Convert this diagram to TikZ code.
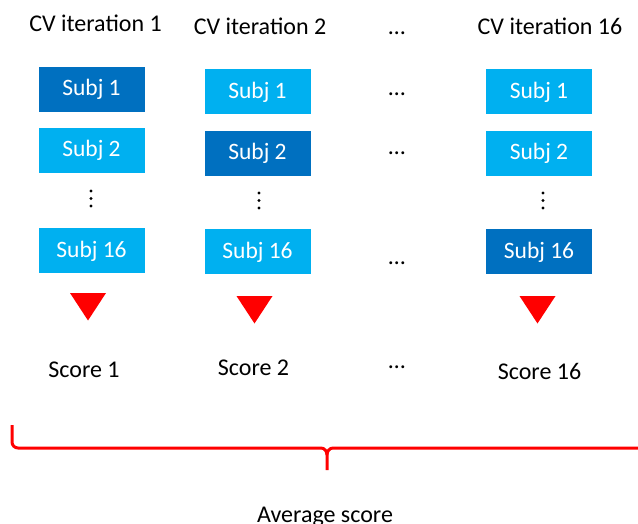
\documentclass[tikz,border=0pt]{standalone}
\usepackage{fontspec}
\setmainfont{Carlito}
\definecolor{darkblue}{HTML}{0070C0}
\definecolor{lightblue}{HTML}{00B0F0}
\definecolor{markred}{HTML}{FF0000}
\tikzset{
  lbl/.style={font=\fontsize{24}{28}\selectfont, text=black, inner sep=0pt, anchor=base},
  subjbox/.style={rectangle, minimum width=106pt, minimum height=45pt, inner sep=0pt,
    font=\fontsize{23.5}{27}\selectfont, text=white},
  heldout/.style={subjbox, fill=darkblue},
  trainbox/.style={subjbox, fill=lightblue},
  vdot/.style={circle, fill=black, inner sep=0pt, minimum size=3.2pt},
  arrowhead/.style={fill=markred, draw=none},
  bracket/.style={draw=markred, line width=3pt, line join=round}
}
\begin{document}
\begin{tikzpicture}[x=1pt,y=-1pt]
\useasboundingbox (0,0) rectangle (638,524);

% column titles
\node[lbl] (t1) at (95.5,32) {CV iteration 1};
\node[lbl] (t2) at (260,35) {CV iteration 2};
\node[lbl] (tm) at (397,35) {…};
\node[lbl] (t3) at (550,35) {CV iteration 16};

% column 1: subject 1 held out
\node[heldout]  (a1)  at (91.5,89.5) {Subj 1};
\node[trainbox] (a2)  at (91.5,150.5) {Subj 2};
\node[trainbox] (a16) at (91.5,251) {Subj 16};
\foreach \y [count=\i] in {191,198.5,206} \node[vdot] (ad\i) at (91,\y) {};

% column 2: subject 2 held out
\node[trainbox] (b1)  at (257.5,92) {Subj 1};
\node[heldout]  (b2)  at (257.5,153.5) {Subj 2};
\node[trainbox] (b16) at (257.5,252) {Subj 16};
\foreach \y [count=\i] in {193,200.5,208} \node[vdot] (bd\i) at (259,\y) {};

% column 3: subject 16 held out
\node[trainbox] (c1)  at (539,92) {Subj 1};
\node[trainbox] (c2)  at (539,153.5) {Subj 2};
\node[heldout]  (c16) at (539,252) {Subj 16};
\foreach \y [count=\i] in {193,200.5,208} \node[vdot] (cd\i) at (543,\y) {};

% ellipses between columns
\node[lbl] (m1) at (397,96) {…};
\node[lbl] (m2) at (397,155) {…};
\node[lbl] (m3) at (397,265) {…};
\node[lbl] (m4) at (397,368) {…};

% red downward markers
\fill[arrowhead] (70,293) -- (106,293) -- (88,320.5) -- cycle;
\fill[arrowhead] (236.5,296) -- (272.5,296) -- (254.5,323.5) -- cycle;
\fill[arrowhead] (519.5,296) -- (555.5,296) -- (537.5,323.5) -- cycle;

% scores
\node[lbl] (s1) at (84,377) {Score 1};
\node[lbl] (s2) at (253.5,375) {Score 2};
\node[lbl] (s3) at (539.5,379) {Score 16};

% brace collecting the scores
\coordinate (bl) at (12,425);
\coordinate (bj) at (327,455);
\coordinate (bm) at (327,470);
\coordinate (br) at (660,448);
\draw[bracket] (bl) -- (12,442) to[out=-90,in=180] (18,448) -- (321,448)
  to[out=0,in=90] (bj) -- (bm);
\draw[bracket] (bj) to[out=90,in=180] (333,448) -- (br);

\node[lbl] (avg) at (325,522) {Average score};
\end{tikzpicture}
\end{document}
